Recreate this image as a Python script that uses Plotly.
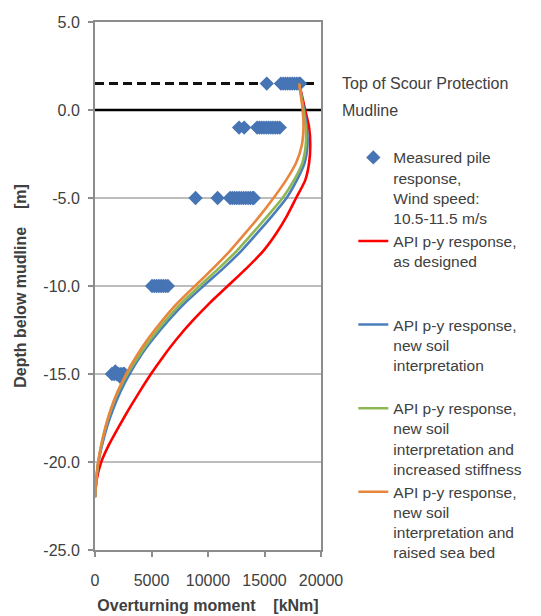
import plotly.graph_objects as go

# Depth below mudline [m] at which each response curve is tabulated
depth = [1.5, 0, -1, -2, -3, -4, -5, -6, -7, -8, -9, -10, -11, -12,
         -13, -14, -15, -16, -17, -18, -19, -20, -21, -22]

# Overturning moment [kNm] for each API p-y response
m_designed = [18070, 18600, 18950, 19050, 18950, 18600, 17800, 17000, 16050,
              14900, 13400, 11750, 10100, 8600, 7250, 6050, 4950, 3950, 3000,
              2100, 1250, 550, 150, 0]
m_new_soil = [18070, 18500, 18750, 18800, 18550, 17850, 16950, 15700, 14350,
              12950, 11350, 9600, 7900, 6450, 5150, 4000, 3050, 2250, 1600,
              1060, 640, 310, 120, 0]
m_stiffness = [18070, 18450, 18650, 18650, 18350, 17600, 16600, 15300, 13950,
               12550, 10950, 9250, 7600, 6200, 4950, 3850, 2850, 2050, 1430,
               950, 570, 285, 112, 0]
m_raised_bed = [18070, 18380, 18450, 18300, 17800, 16900, 15800, 14600, 13300,
                11950, 10450, 8850, 7250, 5900, 4700, 3650, 2750, 2000, 1400,
                930, 560, 280, 110, 0]

# Measured pile response, wind speed 10.5-11.5 m/s, per gauge level
meas_top = [15200, 16450, 16650, 16850, 17050, 17250, 17450, 17650, 17850,
            18050, 18150]
meas_m1 = [12750, 13200, 14350, 14550, 14750, 14950, 15150, 15350, 15550,
           15750, 15950, 16150, 16350]
meas_m5 = [8900, 10850, 11950, 12150, 12350, 12550, 12750, 12950, 13150,
           13350, 13550, 13750, 13950, 14050]
meas_m10 = [5050, 5250, 5450, 5650, 5850, 6050, 6250, 6450]
meas_m15 = [1500, 1700, 1900, 2100, 2300, 2500, 2600, 1800, 2200]
meas_m15_depth = [-15.0, -15.0, -15.0, -15.0, -15.0, -15.0, -15.0, -14.85, -15.15]

measured_moment = meas_top + meas_m1 + meas_m5 + meas_m10 + meas_m15
measured_depth = ([1.5] * len(meas_top) + [-1.0] * len(meas_m1)
                  + [-5.0] * len(meas_m5) + [-10.0] * len(meas_m10)
                  + meas_m15_depth)

scour_top = 1.5
mudline = 0.0
x_span = [0, 20000]

x_ticks = [0, 5000, 10000, 15000, 20000]
y_ticks = [5, 0, -5, -10, -15, -20, -25]
y_ticktext = [f"{v:.1f}" for v in y_ticks]

TXT = "#404040"
FONT = "Liberation Sans, Arial, sans-serif"

legend_names = [
    "Measured pile<br>response,<br>Wind speed:<br>10.5-11.5 m/s",
    "API p-y response,<br>as designed<br> <br> ",
    "API p-y response,<br>new soil<br>interpretation<br> ",
    "API p-y response,<br>new soil<br>interpretation and<br>increased stiffness",
    "API p-y response,<br>new soil<br>interpretation and<br>raised sea bed",
]

fig = go.Figure()

# Reference levels: top of scour protection and mudline
fig.add_trace(go.Scatter(x=[x_span[0], x_span[1] * 0.99], y=[scour_top, scour_top],
                         mode="lines",
                         line=dict(color="#111111", width=3, dash="9px,5px"),
                         showlegend=False, hoverinfo="skip", cliponaxis=False))
fig.add_trace(go.Scatter(x=[x_span[0], x_span[1] * 1.012], y=[mudline, mudline],
                         mode="lines", line=dict(color="#000000", width=2.5),
                         showlegend=False, hoverinfo="skip", cliponaxis=False))

fig.add_trace(go.Scatter(x=measured_moment, y=measured_depth, mode="markers",
                         marker=dict(symbol="diamond", size=11, color="#4674b4"),
                         name=legend_names[0]))

curves = [
    (m_designed, "#ff0000", legend_names[1]),
    (m_new_soil, "#4a7ebb", legend_names[2]),
    (m_stiffness, "#8db753", legend_names[3]),
    (m_raised_bed, "#e8863e", legend_names[4]),
]
for xs, color, name in curves:
    fig.add_trace(go.Scatter(x=xs, y=depth, mode="lines", name=name,
                             line=dict(color=color, width=2.6, shape="spline",
                                       smoothing=0.6)))

fig.add_annotation(text="Top of Scour Protection", xref="paper", yref="y",
                   x=1.085, y=scour_top, xanchor="left", yanchor="middle",
                   showarrow=False, font=dict(size=16, color=TXT, family=FONT))
fig.add_annotation(text="Mudline", xref="paper", yref="y",
                   x=1.085, y=mudline, xanchor="left", yanchor="middle",
                   showarrow=False, font=dict(size=16, color=TXT, family=FONT))

fig.update_layout(
    width=541, height=616,
    margin=dict(l=95, r=220, t=22, b=66, autoexpand=False),
    paper_bgcolor="white", plot_bgcolor="white",
    font=dict(family=FONT, color=TXT, size=15.5),
    legend=dict(x=1.143, xanchor="left", y=0.775, yanchor="top",
                valign="top", font=dict(size=15.5, color=TXT, family=FONT),
                bgcolor="rgba(0,0,0,0)", tracegroupgap=0),
    xaxis=dict(range=[0, 20000], tickvals=x_ticks, tickformat="d",
               showgrid=False, zeroline=False, automargin=False,
               showline=True, linecolor="#8c8c8c", linewidth=2, mirror=True,
               ticks="outside", ticklen=5, tickcolor="#8c8c8c", tickwidth=1.5,
               tickfont=dict(size=16, color=TXT), ticklabelstandoff=10,
               title=dict(text="Overturning moment\u00a0\u00a0\u00a0\u00a0[kNm]",
                          font=dict(size=16, color=TXT, family=FONT, weight="bold"),
                          standoff=12)),
    yaxis=dict(range=[-25, 5], tickvals=y_ticks, ticktext=y_ticktext,
               showgrid=True, gridcolor="#bdbdbd", gridwidth=1.5, zeroline=False,
               automargin=False,
               showline=True, linecolor="#8c8c8c", linewidth=2, mirror=True,
               ticks="outside", ticklen=5, tickcolor="#8c8c8c", tickwidth=1.5,
               tickfont=dict(size=16, color=TXT), ticklabelstandoff=5,
               title=dict(text="Depth below mudline\u00a0\u00a0\u00a0\u00a0[m]",
                          font=dict(size=16, color=TXT, family=FONT, weight="bold"),
                          standoff=13)),
)

fig.write_html("out.html")
